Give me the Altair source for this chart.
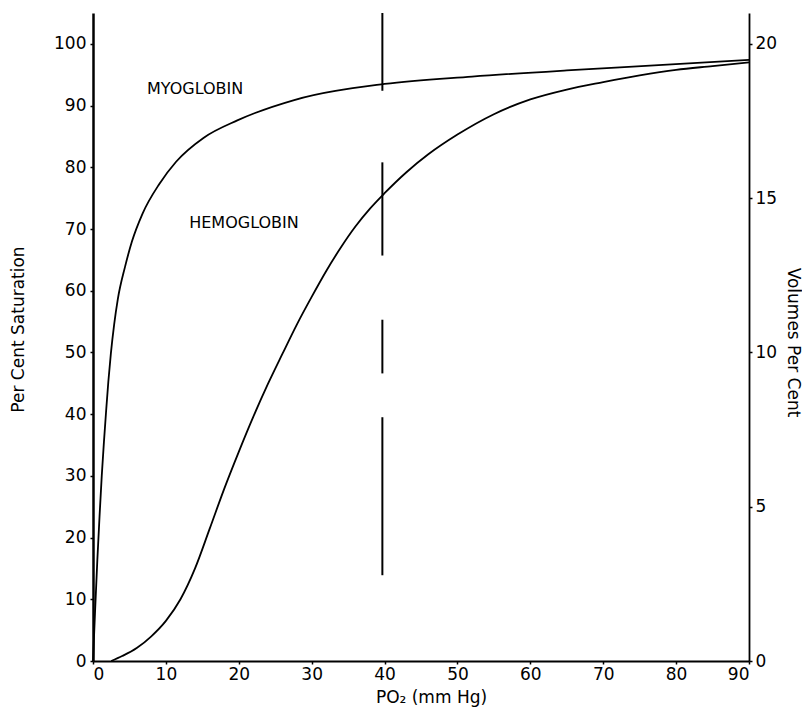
import altair as alt
import pandas as pd

# Oxygen dissociation curves
myo_po2 = [0, 0.3, 0.6, 0.9, 1.2, 1.5, 1.8, 2.1, 2.45, 2.9, 3.4, 4.4, 5.35, 6.8, 9.1, 11.4, 15.2, 19.8, 27.6, 40, 52, 65, 77, 90]
myo_sat = [0, 8.5, 16.5, 23.5, 30, 35.5, 40.5, 45.2, 49.8, 54.5, 58.6, 63.9, 68.0, 72.5, 77.3, 80.9, 84.8, 87.6, 90.9, 93.5, 94.7, 95.7, 96.5, 97.4]

hemo_po2 = [2.5, 4, 6, 8, 10, 12, 14, 16, 18, 20, 22, 24, 26, 28, 30, 32, 34, 36, 38, 40, 43, 46, 50, 55, 60, 65, 70, 75, 80, 85, 90]
hemo_sat = [0, 0.8, 2.1, 4.0, 6.5, 10.0, 15.0, 21.4, 27.9, 33.9, 39.6, 44.9, 49.8, 54.6, 59.0, 63.2, 67.0, 70.4, 73.3, 75.8, 79.2, 82.1, 85.3, 88.6, 91.0, 92.6, 93.8, 94.9, 95.8, 96.4, 97.0]

# Broken vertical reference line near PO2 = 40 mm Hg
seg_x = [39.7, 39.7, 39.7, 39.7]
seg_y1 = [92.4, 65.7, 46.6, 13.9]
seg_y2 = [105, 80.8, 55.3, 39.5]

label_text = ["MYOGLOBIN", "HEMOGLOBIN"]
label_x = [7.4, 13.2]
label_y = [92.7, 71.0]

left_ticks = [0, 10, 20, 30, 40, 50, 60, 70, 80, 90, 100]
right_ticks = [0, 5, 10, 15, 20]
x_ticks = [0, 10, 20, 30, 40, 50, 60, 70, 80, 90]

curves = pd.concat([
    pd.DataFrame({"po2": myo_po2, "sat": myo_sat, "curve": "Myoglobin"}),
    pd.DataFrame({"po2": hemo_po2, "sat": hemo_sat, "curve": "Hemoglobin"}),
])
segs = pd.DataFrame({"x": seg_x, "y1": seg_y1, "y2": seg_y2})
labels = pd.DataFrame({"text": label_text, "x": label_x, "y": label_y})
vol = pd.DataFrame({"v": [0, 21], "x": [0, 90]})

FONT = "DejaVu Sans"

xscale = alt.Scale(domain=[0, 90], nice=False, zero=False)
yscale = alt.Scale(domain=[0, 105], nice=False)

xaxis = alt.Axis(
    values=x_ticks, title="PO₂ (mm Hg)", grid=False, domainWidth=2, domainColor="black",
    tickColor="black", tickSize=3, tickWidth=1.5, labelPadding=2, labelFontSize=17,
    labelFont=FONT, labelColor="black", titleFont=FONT, titleFontSize=17, titleFontWeight="normal",
    titleColor="black", titleX=338, titleY=36, titleBaseline="middle",
    titleAlign="center",
)
yaxis = alt.Axis(
    values=left_ticks, title="Per Cent Saturation", grid=False, domainWidth=2.5, domainColor="black",
    tickColor="black", tickSize=3, tickWidth=1.5, labelPadding=4, labelFontSize=17, labelFont=FONT,
    labelColor="black", titleFont=FONT, titleFontSize=17, titleFontWeight="normal", titleColor="black",
    titleAngle=-90, titleX=-75, titleY=316, titleBaseline="middle", titleAlign="center",
)
raxis = alt.Axis(
    values=right_ticks, title="Volumes Per Cent", orient="right", grid=False, domainWidth=1.8,
    domainColor="black", tickColor="black", tickSize=3, tickWidth=1.5, labelPadding=3,
    labelFontSize=17, labelFont=FONT, labelColor="black", titleFont=FONT, titleFontSize=17,
    titleFontWeight="normal", titleColor="black", titleAngle=90, titleX=43, titleY=329,
    titleBaseline="middle", titleAlign="center",
)

lines = alt.Chart(curves).mark_line(color="black", strokeWidth=1.8, interpolate="monotone").encode(
    x=alt.X("po2:Q", scale=xscale, axis=xaxis),
    y=alt.Y("sat:Q", scale=yscale, axis=yaxis),
    detail="curve:N",
)

rules = alt.Chart(segs).mark_rule(color="black", strokeWidth=2).encode(
    x=alt.X("x:Q", scale=xscale),
    y=alt.Y("y1:Q", scale=yscale),
    y2="y2:Q",
)

texts = alt.Chart(labels).mark_text(
    align="left", baseline="middle", font=FONT, fontSize=16, fontWeight=500, color="black"
).encode(
    x=alt.X("x:Q", scale=xscale),
    y=alt.Y("y:Q", scale=yscale),
    text="text:N",
)

left = alt.layer(lines, rules, texts)

right = alt.Chart(vol).mark_point(opacity=0).encode(
    x=alt.X("x:Q", scale=xscale, axis=xaxis),
    y=alt.Y("v:Q", scale=alt.Scale(domain=[0, 21], nice=False), axis=raxis),
)

chart = alt.layer(left, right).resolve_scale(y="independent").properties(
    width=656, height=648,
    autosize=alt.AutoSizeParams(type="none"),
    padding={"left": 85, "top": 5, "right": 53, "bottom": 48},
).configure_view(stroke=None)

chart.save("out.html", embed_options={"renderer": "svg", "actions": False})
